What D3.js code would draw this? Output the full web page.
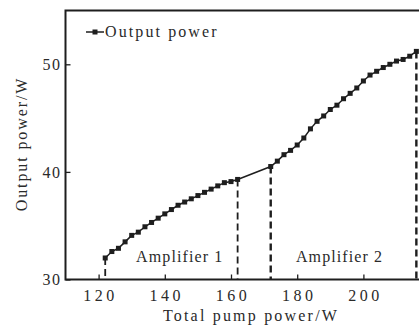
<!DOCTYPE html>
<html>
<head>
<meta charset="utf-8">
<script src="https://cdn.jsdelivr.net/npm/d3@7"></script>
<style>
  html, body { margin: 0; padding: 0; background: #fff; }
  svg text { font-family: "Liberation Serif", "DejaVu Serif", serif; fill: #2a2a2a; }
</style>
</head>
<body>
<figure id="chart" style="margin:0"></figure>
<script>
// Amplifier 1 stage
const pump1 = [122, 124, 126, 128, 130, 132, 134, 136, 138, 140, 142, 144, 146, 148, 150, 152, 154, 156, 158, 160, 162];
const out1 = [32.0, 32.6, 32.9, 33.5, 34.1, 34.4, 34.9, 35.3, 35.7, 36.1, 36.5, 36.9, 37.2, 37.5, 37.8, 38.1, 38.4, 38.7, 39.0, 39.1, 39.3];
// Amplifier 2 stage
const pump2 = [172, 174, 176, 178, 180, 182, 184, 186, 188, 190, 192, 194, 196, 198, 200, 202, 204, 206, 208, 210, 212, 214, 216];
const out2 = [40.5, 41.0, 41.6, 42.0, 42.5, 43.15, 44.0, 44.7, 45.2, 45.8, 46.2, 46.8, 47.3, 47.8, 48.45, 49.0, 49.35, 49.7, 50.0, 50.3, 50.45, 50.75, 51.2];
// boundaries marked with dashed drops
const markPump = [122, 162, 172, 216];
const xTicks = [120, 140, 160, 180, 200];
const yTicks = [30, 40, 50];
const stageLabels = ["Amplifier 1", "Amplifier 2"];
const stageLabelX = [144.5, 192.8];
const stageLabelY = [31.65, 31.65];

const width = 419, height = 325;
const mLeft = 65.5, mTop = 10.5, mBottom = 279.5;

const svg = d3.select("figure#chart")
  .append("svg")
  .attr("width", width)
  .attr("height", height);

const x = d3.scaleLinear().domain([110, 220]).range([mLeft, mLeft + 110 * 3.31]);
const y = d3.scaleLinear().domain([30, 55]).range([mBottom, mTop]);

const ink = "#1e1e1e";

// frame
svg.append("rect")
  .attr("x", x(110)).attr("y", y(55))
  .attr("width", x(220) - x(110)).attr("height", y(30) - y(55))
  .attr("fill", "none").attr("stroke", ink).attr("stroke-width", 2);

// X axis - ticks point inward
const xAxis = svg.append("g")
  .attr("transform", "translate(0," + y(30) + ")")
  .call(d3.axisBottom(x).tickValues(xTicks).tickSize(-5).tickPadding(10));
xAxis.select(".domain").remove();
xAxis.selectAll("line").attr("stroke", ink).attr("stroke-width", 1.3);
xAxis.selectAll("text")
  .attr("font-size", 16).attr("letter-spacing", 3.5).attr("dx", 1.5)
  .attr("dy", "0.71em").attr("y", 10);

// Y axis
const yAxis = svg.append("g")
  .attr("transform", "translate(" + x(110) + ",0)")
  .call(d3.axisLeft(y).tickValues(yTicks).tickSize(-5).tickPadding(4));
yAxis.select(".domain").remove();
yAxis.selectAll("line").attr("stroke", ink).attr("stroke-width", 1.3);
yAxis.selectAll("text").attr("font-size", 16).attr("letter-spacing", 1.5);

// axis titles
svg.append("text")
  .attr("x", 251).attr("y", 321)
  .attr("text-anchor", "middle").attr("font-size", 16).attr("letter-spacing", 2.2)
  .text("Total pump power/W");
svg.append("text")
  .attr("transform", "translate(27,144) rotate(-90)")
  .attr("text-anchor", "middle").attr("font-size", 16).attr("letter-spacing", 1.9)
  .text("Output power/W");

// dashed drops
svg.append("g").selectAll("line")
  .data(markPump)
  .enter()
  .append("line")
  .attr("x1", d => x(d)).attr("x2", d => x(d))
  .attr("y1", d => {
    const i1 = pump1.indexOf(d);
    return y(i1 >= 0 ? out1[i1] : out2[pump2.indexOf(d)]);
  })
  .attr("y2", y(30))
  .attr("stroke", ink)
  .attr("stroke-width", (d, i) => i < 2 ? 1.8 : 2.4)
  .attr("stroke-dasharray", "7,4");

// series
const pump = pump1.concat(pump2);
const out = out1.concat(out2);
const pts = pump.map((p, i) => [p, out[i]]);
svg.append("path")
  .datum(pts)
  .attr("fill", "none").attr("stroke", ink).attr("stroke-width", 1.5)
  .attr("d", d3.line().x(d => x(d[0])).y(d => y(d[1])));

svg.append("g").selectAll("rect")
  .data(pts)
  .enter()
  .append("rect")
  .attr("x", d => x(d[0]) - 2.5).attr("y", d => y(d[1]) - 2.5)
  .attr("width", 5).attr("height", 5)
  .attr("fill", ink);

// stage labels
svg.append("g").selectAll("text")
  .data(stageLabels)
  .enter()
  .append("text")
  .attr("x", (d, i) => x(stageLabelX[i])).attr("y", (d, i) => y(stageLabelY[i]))
  .attr("text-anchor", "middle").attr("font-size", 16).attr("letter-spacing", 1.1)
  .text(d => d);

// legend
const lg = svg.append("g").attr("transform", "translate(86,32)");
lg.append("line").attr("x1", 0).attr("x2", 18).attr("stroke", ink).attr("stroke-width", 1.5);
lg.append("rect").attr("x", 6.5).attr("y", -2.5).attr("width", 5).attr("height", 5).attr("fill", ink);
lg.append("text").attr("x", 19).attr("y", 5).attr("font-size", 16).attr("letter-spacing", 2.1)
  .text("Output power");
</script>
</body>
</html>
